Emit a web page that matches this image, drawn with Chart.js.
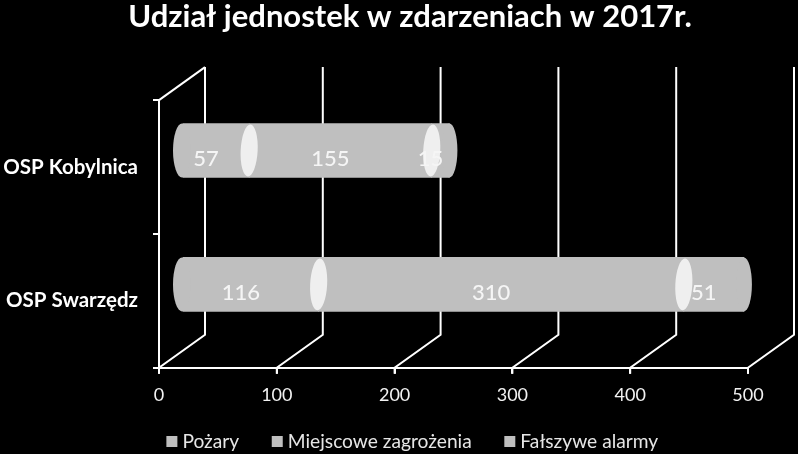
<!DOCTYPE html>
<html><head><meta charset="utf-8">
<style>html,body{margin:0;padding:0;background:#000}canvas{display:block}</style>
<script src="https://cdn.jsdelivr.net/npm/chart.js@4"></script>
</head><body><canvas id="c" width="798" height="454"></canvas>
<script>
const categories = ["OSP Kobylnica", "OSP Swarzędz"];
const pozary = [57, 116];
const miejscowe = [155, 310];
const falszywe = [15, 51];
const titleText = "Udział jednostek w zdarzeniach w 2017r.";
const FONT = "Lato, 'Open Sans', sans-serif";
const DX = 46, DY = 33, BAR = "#bfbfbf", CUT = "#efefef", LINE = "#ffffff";

// legend swatch: square sits close to its text, as in the original
const swatch = document.createElement("canvas");
swatch.width = 30; swatch.height = 11;
const sctx = swatch.getContext("2d");
sctx.fillStyle = BAR;
sctx.fillRect(14, 0, 11, 11);

const cylinder = {
  id: "cylinder",
  afterLayout(chart) { chart.scales.y.left = 0; },
  beforeDatasetsDraw(chart) {
    const { ctx, scales: { x }, chartArea: a } = chart;
    ctx.save();
    ctx.strokeStyle = LINE; ctx.lineWidth = 2;
    x.ticks.forEach(t => {
      const px = x.getPixelForValue(t.value);
      ctx.beginPath();
      ctx.moveTo(px, a.bottom + 6);
      ctx.lineTo(px, a.bottom);
      ctx.lineTo(px + DX, a.bottom - DY);
      ctx.lineTo(px + DX, a.top - DY);
      ctx.stroke();
    });
    ctx.beginPath();
    ctx.moveTo(a.left, a.top);
    ctx.lineTo(a.left + DX, a.top - DY);
    ctx.stroke();
    ctx.restore();
    ctx.save();
    ctx.translate(DX / 2, -DY / 2);
  },
  afterDatasetsDraw(chart) {
    const { ctx, scales: { x } } = chart;
    const n = chart.data.datasets.length;
    const ell = (cx, cy, rx, ry, col, rot) => {
      ctx.fillStyle = col;
      ctx.beginPath();
      ctx.ellipse(cx, cy, rx, ry, rot, 0, Math.PI * 2);
      ctx.fill();
    };
    categories.forEach((_, i) => {
      const first = chart.getDatasetMeta(0).data[i];
      const last = chart.getDatasetMeta(n - 1).data[i];
      const h = first.height / 2;
      ell(x.getPixelForValue(0), first.y, 9, h, BAR, 0);
      ell(last.x, first.y, 8, h, BAR, 0);
      for (let d = 0; d < n - 1; d++) {
        const el = chart.getDatasetMeta(d).data[i];
        ell(el.x, el.y, 8.5, h - 1, CUT, 0.05);
      }
    });
    ctx.restore();
    ctx.save();
    ctx.fillStyle = "#f5f5f5";
    ctx.font = "500 22px " + FONT;
    ctx.textAlign = "center"; ctx.textBaseline = "middle";
    chart.data.datasets.forEach((ds, d) => {
      chart.getDatasetMeta(d).data.forEach((el, i) => {
        ctx.fillText(String(ds.data[i]), (el.base + el.x) / 2 + 13, el.y - 8);
      });
    });
    ctx.restore();
  }
};

new Chart(document.getElementById("c"), {
  type: "bar",
  data: {
    labels: categories,
    datasets: [
      { label: "Pożary", data: pozary, backgroundColor: BAR },
      { label: "Miejscowe zagrożenia", data: miejscowe, backgroundColor: BAR },
      { label: "Fałszywe alarmy", data: falszywe, backgroundColor: BAR }
    ]
  },
  plugins: [cylinder],
  options: {
    indexAxis: "y",
    responsive: false,
    animation: false,
    devicePixelRatio: 1,
    datasets: { bar: { barThickness: 54, borderWidth: 0 } },
    layout: { padding: { left: 72, right: 50, top: 0, bottom: -7 } },
    plugins: {
      tooltip: { enabled: false },
      title: {
        display: true, text: titleText, color: "#ffffff",
        font: { family: FONT, size: 31, weight: "bold", lineHeight: 1.1 },
        padding: { top: 0, bottom: 66 }
      },
      legend: {
        position: "bottom",
        labels: {
          color: "#e6e6e6", font: { family: FONT, size: 19.2 },
          usePointStyle: true, pointStyle: swatch,
          boxWidth: 11, boxHeight: 11, padding: 28
        }
      }
    },
    scales: {
      x: {
        stacked: true, min: 0, max: 500,
        ticks: { stepSize: 100, color: "#f2f2f2", font: { family: FONT, size: 18 }, padding: 11, maxRotation: 0 },
        grid: { display: true, drawOnChartArea: false, drawTicks: true, tickLength: 6, color: LINE, lineWidth: 2 },
        border: { display: true, color: LINE, width: 2 },
        afterFit(s) { s.height = 36; }
      },
      y: {
        stacked: true,
        ticks: { color: "#ffffff", font: { family: FONT, size: 20.5, weight: "bold" }, padding: 15 },
        grid: { display: true, drawOnChartArea: false, drawTicks: true, tickLength: 6, color: LINE, lineWidth: 2 },
        border: { display: true, color: LINE, width: 2 },
        afterFit(s) { s.width = 87; }
      }
    }
  }
});
</script></body></html>
